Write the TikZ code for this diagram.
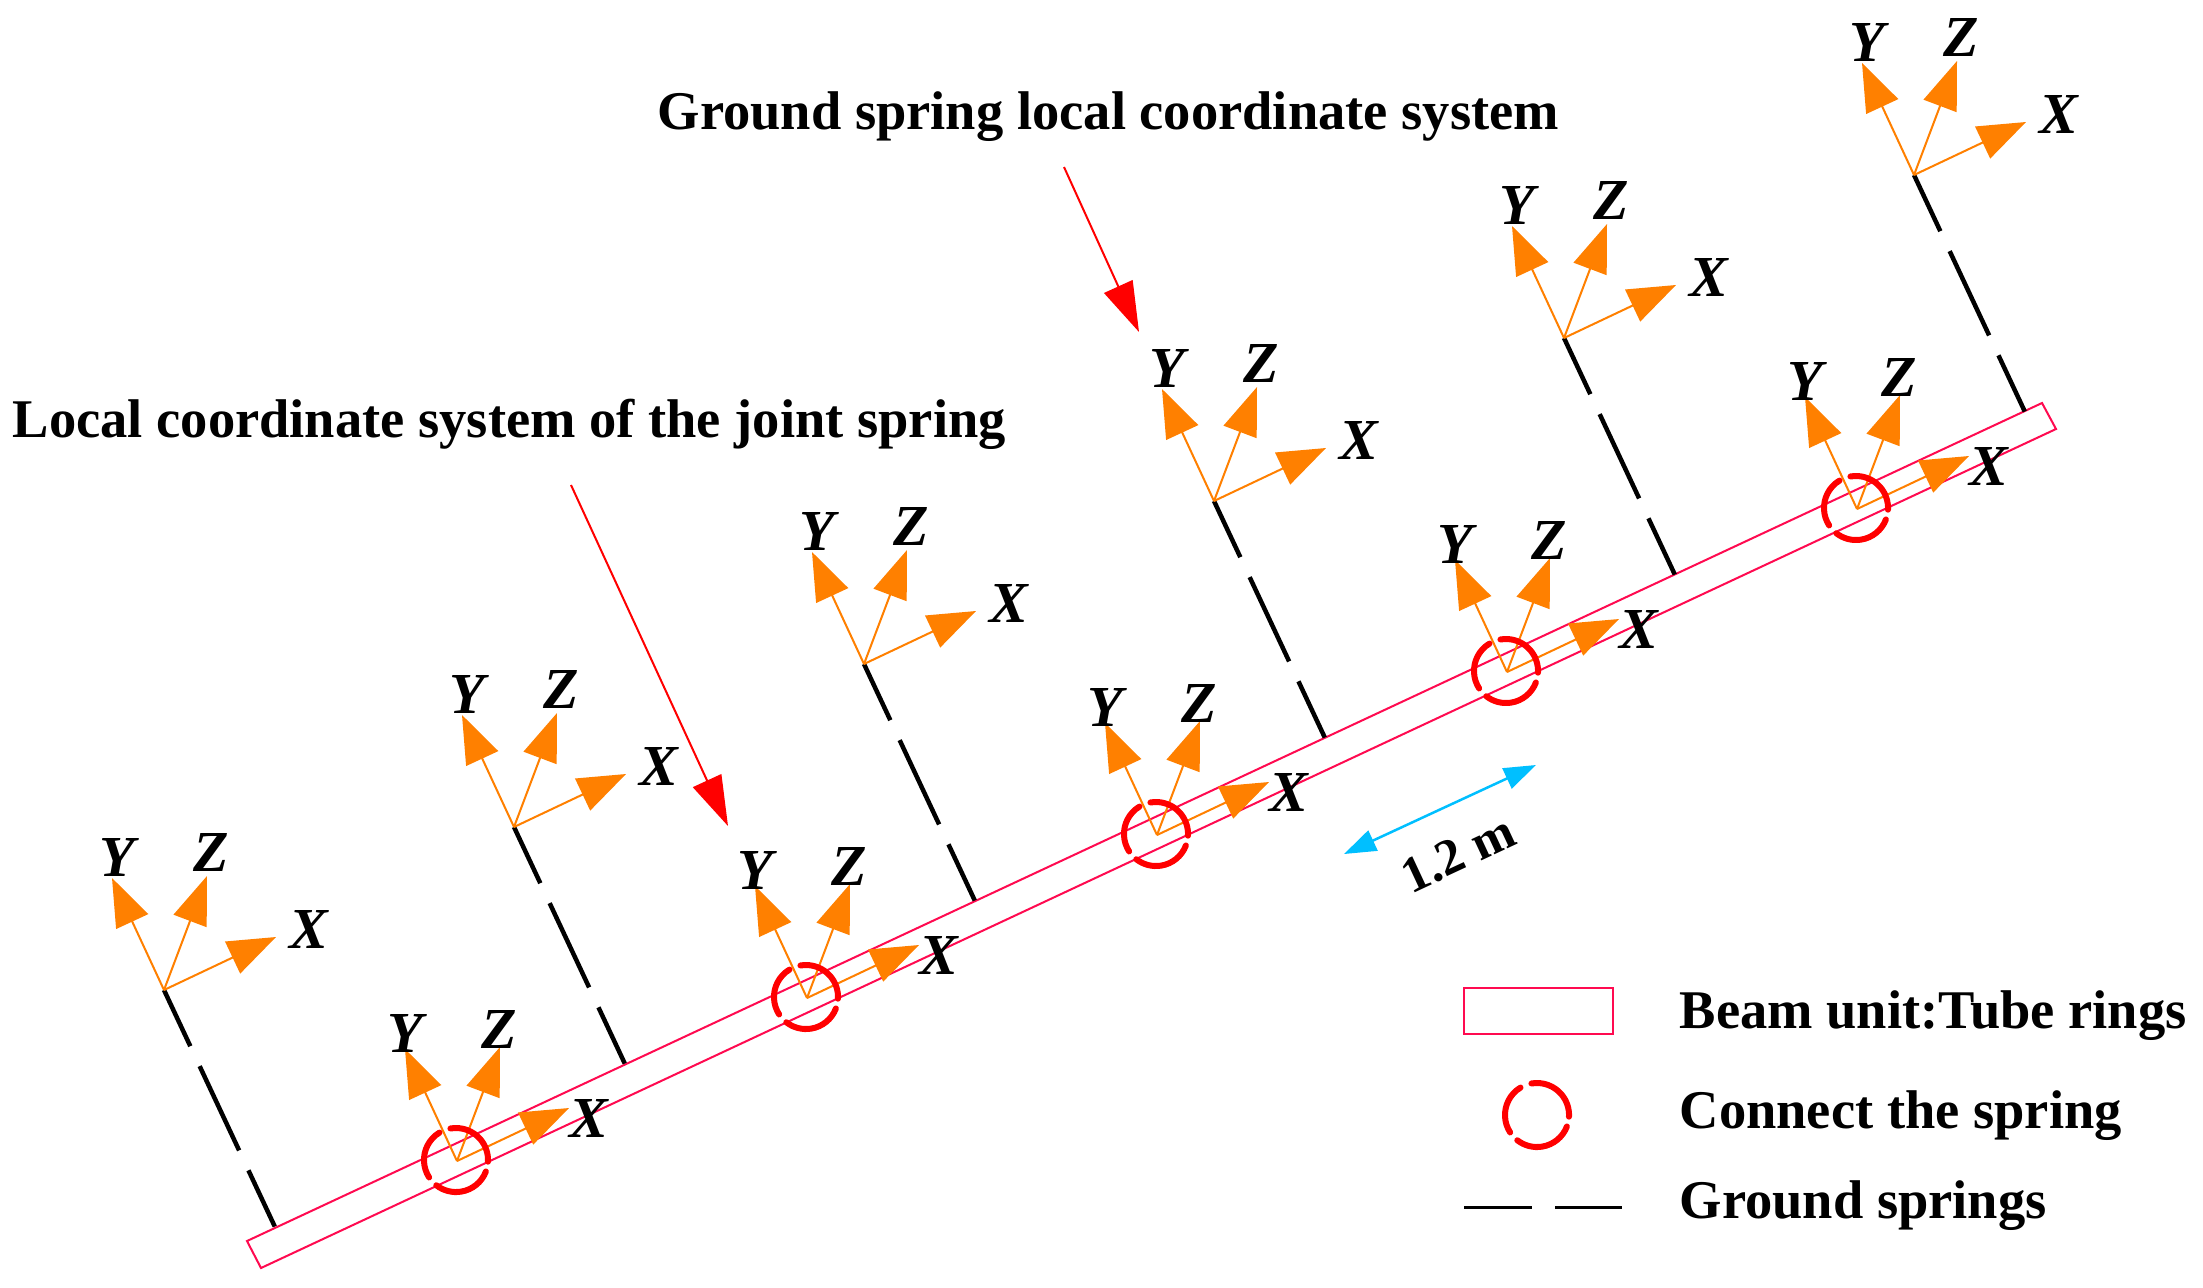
\documentclass[tikz,border=0pt]{standalone}
\usepackage{fontspec}
\setmainfont{Liberation Serif}
\usetikzlibrary{arrows.meta,calc}
\definecolor{beamc}{HTML}{FF0A50}
\definecolor{axisc}{HTML}{FF8000}
\definecolor{ringc}{HTML}{FF0000}
\definecolor{dimc}{HTML}{00BFFF}
\tikzset{
  beamline/.style={draw=beamc,line width=0.02cm},
  springline/.style={draw=black,line width=0.045cm,dash pattern=on 0.62cm off 0.22cm on 0.93cm off 0.22cm on 0.62cm off 2cm},
  axisarrow/.style={draw=axisc,fill=axisc,line width=0.02cm,-{Triangle[length=0.48cm,width=0.35cm,fill=axisc]}},
  ringline/.style={draw=ringc,line width=0.06cm},
  redarrow/.style={draw=ringc,line width=0.02cm,-{Triangle[length=0.5cm,width=0.31cm,fill=ringc]}},
  dimarrow/.style={draw=dimc,line width=0.025cm,{Triangle[length=0.32cm,width=0.22cm,fill=dimc]}-{Triangle[length=0.32cm,width=0.22cm,fill=dimc]}},
  axislabel/.style={font=\fontsize{16.5}{20}\selectfont\bfseries\itshape,inner sep=0pt,text=black},
  maintext/.style={font=\fontsize{15.5}{18}\selectfont\bfseries,inner sep=0pt,anchor=base west,text=black},
}
\newcommand{\axestriad}[7]{%
  \coordinate (#1ty) at ($(#1)+(-52,-112)$);
  \coordinate (#1tz) at ($(#1)+(43,-114)$);
  \coordinate (#1tx) at ($(#1)+(112,-53)$);
  \draw[axisarrow] (#1) -- (#1ty);
  \draw[axisarrow] (#1) -- (#1tz);
  \draw[axisarrow] (#1) -- (#1tx);
  \node[axislabel] (#1ly) at ($(#1)+(#2,#3)$) {Y};
  \node[axislabel] (#1lz) at ($(#1)+(#4,#5)$) {Z};
  \node[axislabel] (#1lx) at ($(#1)+(#6,#7)$) {X};
}
\newcommand{\splitring}[1]{%
  \draw[ringline,line cap=round] (#1) ++(100:0.32cm) arc[start angle=100,end angle=-3,radius=0.32cm];
  \draw[ringline,line cap=round] (#1) ++(-21:0.32cm) arc[start angle=-21,end angle=-128,radius=0.32cm];
  \draw[ringline,line cap=round] (#1) ++(213:0.32cm) arc[start angle=213,end angle=121,radius=0.32cm];
}
\begin{document}
\begin{tikzpicture}[x=0.01cm,y=-0.01cm]
\useasboundingbox[fill=white] (0,0) rectangle (2203,1287);
% beam
\coordinate (b1) at (247,1241);
\coordinate (b2) at (261,1268);
\coordinate (b3) at (2056,429);
\coordinate (b4) at (2042,403);
\draw[beamline] (b1) -- (b2) -- (b3) -- (b4) -- cycle;
% ground springs
\foreach \i in {0,...,5}{
  \coordinate (gtop\i) at ({164+350*\i},{990-163*\i});
  \coordinate (gbot\i) at ({275+350*\i},{1227-163*\i});
  \draw[springline] (gtop\i) -- (gbot\i);
  \axestriad{gtop\i}{-47}{-133}{47}{-138}{145}{-61}
}
% joint springs
\foreach \i in {0,...,4}{
  \coordinate (jo\i) at ({457+350*\i},{1161-163*\i});
  \axestriad{jo\i}{-52}{-128}{42}{-132}{132}{-43}
  \coordinate (jc\i) at ({456+350*\i},{1160-163*\i});
  \splitring{jc\i}
}
% callouts
\node[maintext] (t1) at (657,129) {Ground spring local coordinate system};
\node[maintext] (t2) at (12,437) {Local coordinate system of the joint spring};
\coordinate (r1s) at (1064,167);
\coordinate (r1e) at (1139,332);
\coordinate (r2s) at (571,485);
\coordinate (r2e) at (728,826);
\draw[redarrow] (r1s) -- (r1e);
\draw[redarrow] (r2s) -- (r2e);
% dimension
\coordinate (d1) at (1344,854);
\coordinate (d2) at (1536,765);
\draw[dimarrow] (d1) -- (d2);
\node[font=\fontsize{14.5}{18}\selectfont\bfseries,inner sep=0pt,rotate=25] (dl) at (1458,854) {1.2 m};
% legend
\coordinate (lr1) at (1464,988);
\coordinate (lr2) at (1613,1034);
\draw[beamline] (lr1) rectangle (lr2);
\coordinate (lc) at (1537,1115);
\splitring{lc}
\coordinate (ls1) at (1464,1207);
\coordinate (ls2) at (1532,1207);
\coordinate (ls3) at (1555,1207);
\coordinate (ls4) at (1622,1207);
\draw[line width=0.03cm] (ls1) -- (ls2);
\draw[line width=0.03cm] (ls3) -- (ls4);
\node[maintext] (l1) at (1679,1028) {Beam unit:Tube rings};
\node[maintext] (l2) at (1679,1128) {Connect the spring};
\node[maintext] (l3) at (1679,1218) {Ground springs};
\end{tikzpicture}
\end{document}
